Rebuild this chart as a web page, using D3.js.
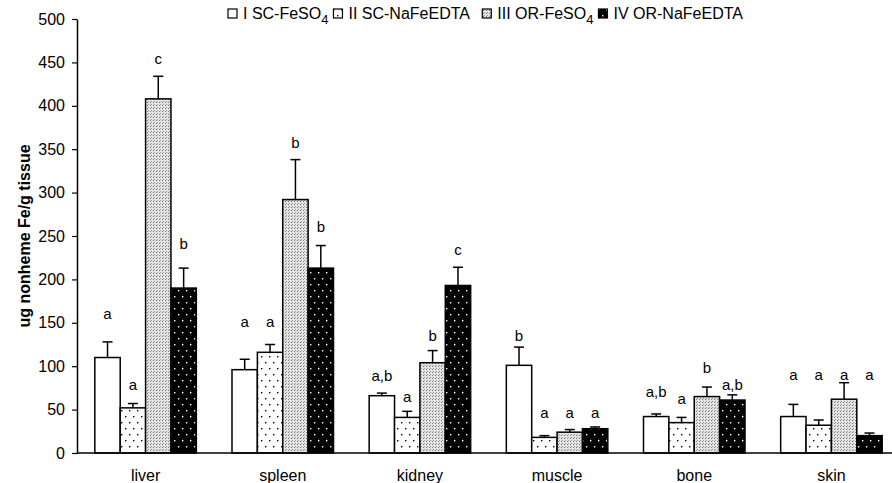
<!DOCTYPE html>
<html>
<head>
<meta charset="utf-8">
<script src="https://cdn.jsdelivr.net/npm/d3@7"></script>
<style>
  body { margin: 0; background: #fff; }
  text { font-family: "Liberation Sans", Arial, sans-serif; fill: #000; }
</style>
</head>
<body>
<div id="chart"></div>
<script>
// tissues and treatment groups
const tissues = ["liver", "spleen", "kidney", "muscle", "bone", "skin"]
const groups = ["I SC-FeSO4", "II SC-NaFeEDTA", "III OR-FeSO4", "IV OR-NaFeEDTA"]

// mean values (ug nonheme Fe / g tissue), one array per group
const scFeso4 = [110, 96, 66, 101, 42, 42]
const scNafeedta = [52, 116, 41, 18, 35, 32]
const orFeso4 = [408, 292, 104, 24, 65, 62]
const orNafeedta = [190, 213, 193, 28, 61, 20]

// error bars (upper only)
const errScFeso4 = [18, 12, 3, 21, 3, 14]
const errScNafeedta = [5, 9, 7, 2, 6, 6]
const errOrFeso4 = [26, 46, 14, 3, 11, 19]
const errOrNafeedta = [23, 26, 21, 2, 6, 3]

// significance letters and the value height they sit at
const letters = [
    ["a", "a", "c", "b"],
    ["a", "a", "b", "b"],
    ["a,b", "a", "b", "c"],
    ["b", "a", "a", "a"],
    ["a,b", "a", "b", "a,b"],
    ["a", "a", "a", "a"]
]
const letterAt = [
    [161, 79, 454, 241],
    [151, 151, 358, 261],
    [89, 65, 135, 234],
    [135, 46, 46, 46],
    [71, 63, 98, 79],
    [90, 90, 90, 90]
]

const yTicks = [0, 50, 100, 150, 200, 250, 300, 350, 400, 450, 500]

const means = [scFeso4, scNafeedta, orFeso4, orNafeedta]
const errs = [errScFeso4, errScNafeedta, errOrFeso4, errOrNafeedta]

const rows = []
tissues.forEach((t, i) => {
    groups.forEach((g, j) => {
        rows.push({tissue: t, group: g, gi: j, value: means[j][i], err: errs[j][i],
            letter: letters[i][j], letterY: letterAt[i][j]})
    })
})

let width = 892
let height = 483

const svg = d3.select("#chart").append("svg")
    .attr("width", width)
    .attr("height", height)

// fill patterns
const defs = svg.append("defs")

const p2 = defs.append("pattern").attr("id", "pat2")
    .attr("patternUnits", "userSpaceOnUse").attr("width", 8).attr("height", 12)
p2.append("rect").attr("width", 8).attr("height", 12).attr("fill", "#fff")
p2.append("rect").attr("x", 1).attr("y", 2).attr("width", 1.4).attr("height", 1.4).attr("fill", "#000")
p2.append("rect").attr("x", 5).attr("y", 8).attr("width", 1.4).attr("height", 1.4).attr("fill", "#000")

const p3 = defs.append("pattern").attr("id", "pat3")
    .attr("patternUnits", "userSpaceOnUse").attr("width", 3).attr("height", 3)
p3.append("rect").attr("width", 3).attr("height", 3).attr("fill", "#e4e4e4")
p3.append("rect").attr("x", 0).attr("y", 0).attr("width", 1).attr("height", 1).attr("fill", "#777")
p3.append("rect").attr("x", 1).attr("y", 2).attr("width", 1).attr("height", 1).attr("fill", "#999")

const p4 = defs.append("pattern").attr("id", "pat4")
    .attr("patternUnits", "userSpaceOnUse").attr("width", 8).attr("height", 12)
p4.append("rect").attr("width", 8).attr("height", 12).attr("fill", "#000")
p4.append("rect").attr("x", 2).attr("y", 2).attr("width", 1.4).attr("height", 1.4).attr("fill", "#fff")
p4.append("rect").attr("x", 6).attr("y", 8).attr("width", 1.4).attr("height", 1.4).attr("fill", "#fff")

const fills = ["#fff", "url(#pat2)", "url(#pat3)", "url(#pat4)"]

const x0 = d3.scaleBand().domain(tissues).range([77, 900]).paddingInner(0.26).paddingOuter(0.13)
const x1 = d3.scaleBand().domain(groups).range([0, x0.bandwidth()])
const y = d3.scaleLinear().domain([0, 500]).range([453, 19])

// y axis
const yAxis = svg.append("g")
    .attr("transform", "translate(77,0)")
    .call(d3.axisLeft(y).tickValues(yTicks).tickSize(5).tickSizeOuter(0))
yAxis.select(".domain").attr("stroke", "#000").attr("stroke-width", 1.5)
yAxis.selectAll(".tick line").attr("stroke", "#000").attr("stroke-width", 1.2)
yAxis.selectAll(".tick text").attr("font-size", 16).attr("font-family", "Liberation Sans, Arial, sans-serif")
    .attr("x", -12)

// bars
svg.selectAll(".bar")
    .data(rows)
    .enter().append("rect")
    .attr("class", "bar")
    .attr("x", d => x0(d.tissue) + x1(d.group))
    .attr("y", d => y(d.value))
    .attr("width", x1.bandwidth())
    .attr("height", d => y(0) - y(d.value))
    .attr("fill", d => fills[d.gi])
    .attr("stroke", "#000")
    .attr("stroke-width", 1.5)

// error bars
const eb = svg.selectAll(".err")
    .data(rows)
    .enter().append("g")
    .attr("class", "err")
    .attr("transform", d => "translate(" + (x0(d.tissue) + x1(d.group) + x1.bandwidth() / 2) + ",0)")
eb.append("line")
    .attr("y1", d => y(d.value)).attr("y2", d => y(d.value + d.err))
    .attr("stroke", "#000").attr("stroke-width", 1.5)
eb.append("line")
    .attr("x1", -5).attr("x2", 5)
    .attr("y1", d => y(d.value + d.err)).attr("y2", d => y(d.value + d.err))
    .attr("stroke", "#000").attr("stroke-width", 1.5)

// letters
svg.selectAll(".letter")
    .data(rows)
    .enter().append("text")
    .attr("class", "letter")
    .attr("x", d => x0(d.tissue) + x1(d.group) + x1.bandwidth() / 2)
    .attr("y", d => y(d.letterY))
    .attr("dy", "0.35em")
    .attr("text-anchor", "middle")
    .attr("font-size", 15)
    .text(d => d.letter)

// x axis
svg.append("line")
    .attr("x1", 77).attr("x2", width).attr("y1", y(0)).attr("y2", y(0))
    .attr("stroke", "#000").attr("stroke-width", 1.5)
svg.selectAll(".xlab")
    .data(tissues)
    .enter().append("text")
    .attr("class", "xlab")
    .attr("x", d => x0(d) + x0.bandwidth() / 2)
    .attr("y", 475)
    .attr("dy", "0.35em")
    .attr("text-anchor", "middle")
    .attr("font-size", 16)
    .text(d => d)

// y title
svg.append("text")
    .attr("transform", "translate(30," + y(250) + ") rotate(-90)")
    .attr("text-anchor", "middle")
    .attr("font-size", 16)
    .attr("font-weight", "bold")
    .text("ug nonheme Fe/g tissue")

// legend
const legend = svg.append("g").attr("transform", "translate(228,19)")
let lx = 0
groups.forEach((g, j) => {
    legend.append("rect")
        .attr("x", lx).attr("y", -10).attr("width", 9).attr("height", 9)
        .attr("fill", fills[j]).attr("stroke", "#000").attr("stroke-width", 1.2)
    lx += 15
    const t = legend.append("text").attr("x", lx).attr("y", 0).attr("font-size", 16)
    const sub = g.endsWith("FeSO4")
    t.append("tspan").text(sub ? g.slice(0, -1) : g)
    if (sub) {
        t.append("tspan").attr("dy", 5).attr("font-size", 13).text("4")
    }
    const bb = t.node().getBBox()
    lx += bb.width + (sub ? 5 : 12)
})
</script>
</body>
</html>
